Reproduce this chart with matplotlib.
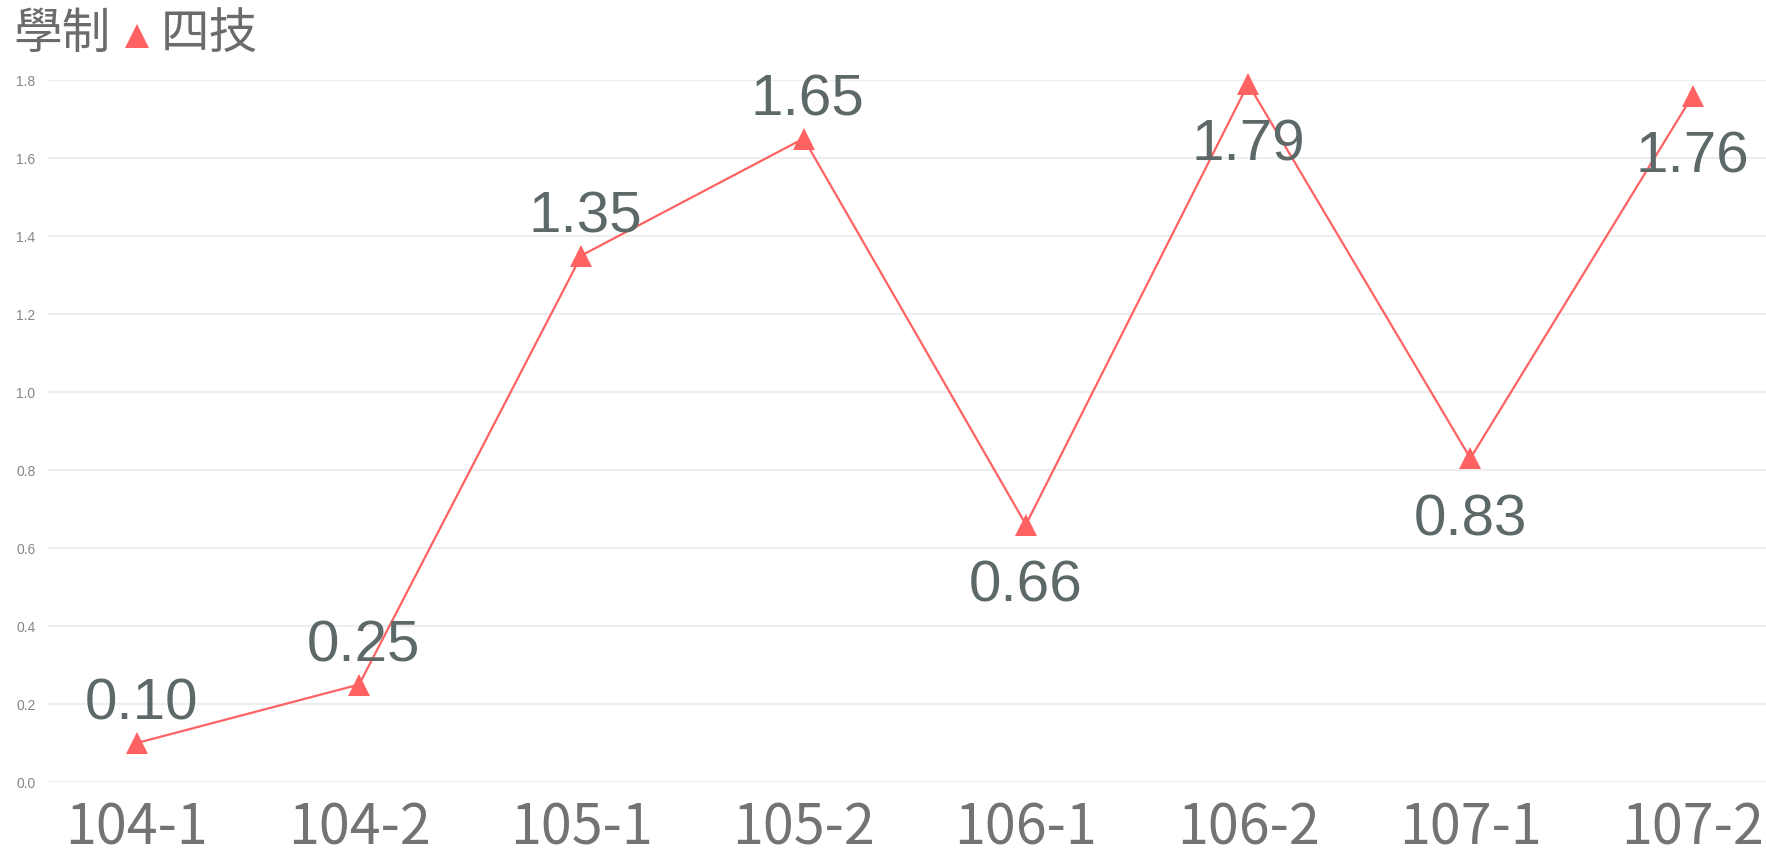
import matplotlib
matplotlib.use('Agg')
import matplotlib.pyplot as plt
from matplotlib.lines import Line2D

categories = ['104-1', '104-2', '105-1', '105-2', '106-1', '106-2', '107-1', '107-2']
values = [0.10, 0.25, 1.35, 1.65, 0.66, 1.79, 0.83, 1.76]
label_side = ['above', 'above', 'above', 'above', 'below', 'below', 'below', 'below']
yticks = [0.0, 0.2, 0.4, 0.6, 0.8, 1.0, 1.2, 1.4, 1.6, 1.8]
legend_title = '學制'
series_name = '四技'

LINE_COLOR = '#ff6262'
LABEL_COLOR = '#5d6869'
TICK_COLOR = '#737373'
CJK = ['Noto Sans CJK TC', 'DejaVu Sans']

W, H = 1766, 848
fig = plt.figure(figsize=(W / 100, H / 100), dpi=100)
ax = fig.add_axes([48 / W, 66 / H, (W - 48) / W, 702 / H])

x = list(range(len(categories)))
ax.plot(x, values, color=LINE_COLOR, lw=1.6, marker='^', ms=16,
        markeredgewidth=0, clip_on=False, zorder=3)

for xi, v, side in zip(x, values, label_side):
    if side == 'above':
        ax.annotate(f'{v:.2f}', (xi, v), xytext=(3, 8), textcoords='offset points',
                    ha='center', va='bottom', fontsize=42, color=LABEL_COLOR,
                    family='Liberation Sans', zorder=4, annotation_clip=False)
    else:
        ax.annotate(f'{v:.2f}', (xi, v), xytext=(0, -25), textcoords='offset points',
                    ha='center', va='top', fontsize=42, color=LABEL_COLOR,
                    family='Liberation Sans', zorder=4, annotation_clip=False)

ax.set_xlim(-0.40, 7.33)
ax.set_ylim(0, 1.8)
ax.set_xticks(x)
ax.set_xticklabels(categories, fontsize=40, color=TICK_COLOR, family=CJK)
ax.set_yticks(yticks)
ax.set_yticklabels([f'{t:.1f}' for t in yticks], fontsize=10, color='#8a8580',
                   family='Liberation Sans')
ax.tick_params(axis='x', length=0, pad=13)
ax.tick_params(axis='y', length=0, pad=9)
ax.grid(axis='y', color='#eeeeee', lw=1.5)
ax.set_axisbelow(True)
for s in ax.spines.values():
    s.set_visible(False)

fig.text(13 / W, 1 - 34 / H, legend_title, fontsize=35, color='#6b6b6b',
         family=CJK, ha='left', va='center')
fig.add_artist(Line2D([137 / W], [1 - 36 / H], marker='^', ms=17, color=LINE_COLOR,
                      markeredgewidth=0, transform=fig.transFigure))
fig.text(161 / W, 1 - 34 / H, series_name, fontsize=35, color='#6b6b6b',
         family=CJK, ha='left', va='center')

fig.savefig('out.png', dpi=100, facecolor='white')
